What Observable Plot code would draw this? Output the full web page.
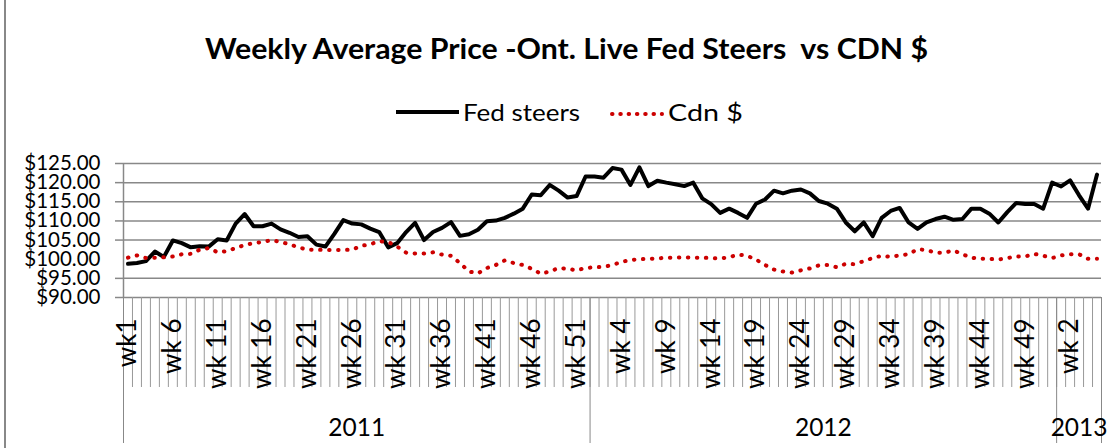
<!DOCTYPE html>
<html>
<head>
<meta charset="utf-8">
<script src="https://cdn.jsdelivr.net/npm/d3@7"></script>
<script src="https://cdn.jsdelivr.net/npm/@observablehq/plot@0.6"></script>
<style>
html,body{margin:0;padding:0;background:#fff;}
#wrap{position:relative;width:1115px;height:448px;overflow:hidden;font-family:Lato,sans-serif;}
#wrap svg{position:absolute;left:0;top:0;}
</style>
</head>
<body>
<div id="wrap"></div>
<script>
// ---- data ----
const years = ["2011", "2012", "2013"];
const weeksPerYear = [52, 52, 5];

const fedSteers = [
  98.8, 99.0, 99.5, 102.0, 100.6, 104.9, 104.2, 103.1, 103.4, 103.3,
  105.2, 104.9, 109.3, 111.8, 108.6, 108.6, 109.3, 107.8, 106.9, 105.8,
  106.0, 103.8, 103.3, 106.6, 110.2, 109.3, 109.1, 108.0, 107.1, 103.1,
  104.2, 107.1, 109.5, 105.0, 107.1, 108.2, 109.7, 106.1, 106.5, 107.7,
  109.9, 110.1, 110.8, 111.9, 113.2, 116.9, 116.7, 119.4, 117.9, 116.1,
  116.5, 121.6,
  121.6, 121.3, 123.8, 123.4, 119.4, 124.0, 119.1, 120.5, 120.0, 119.6,
  119.1, 120.0, 115.9, 114.4, 112.1, 113.2, 112.1, 110.8, 114.5, 115.6,
  117.9, 117.2, 117.9, 118.2, 117.2, 115.2, 114.5, 113.2, 109.6, 107.3,
  109.6, 106.0, 110.8, 112.6, 113.4, 109.6, 107.9, 109.6, 110.5, 111.1,
  110.3, 110.5, 113.2, 113.2, 111.9, 109.6, 112.3, 114.7, 114.4, 114.4,
  113.2, 120.0,
  119.0, 120.6, 116.7, 113.2, 122.1
];

const cdnDollar = [
  100.4, 101.0, 100.3, 100.4, 100.5, 100.7, 101.3, 101.4, 102.5, 102.9,
  101.8, 102.1, 102.9, 103.7, 104.2, 104.5, 105.0, 104.5, 103.9, 103.1,
  102.5, 102.5, 102.4, 102.4, 102.4, 102.5, 103.5, 103.9, 104.7, 104.5,
  103.3, 101.7, 101.5, 101.5, 101.8, 101.2, 100.9, 99.0, 96.8, 96.3,
  97.7, 98.5, 99.7, 99.0, 98.5, 97.5, 96.2, 96.8, 97.7, 97.5,
  97.1, 97.7,
  97.9, 98.0, 98.5, 99.3, 99.8, 100.0, 100.1, 100.2, 100.4, 100.4,
  100.5, 100.4, 100.4, 100.3, 100.2, 100.5, 101.2, 100.9, 99.9, 98.5,
  97.3, 96.8, 96.5, 97.1, 97.6, 98.4, 98.5, 97.9, 98.8, 98.7,
  99.5, 100.3, 100.9, 100.6, 101.0, 101.3, 102.6, 102.4, 101.7, 101.7,
  102.3, 101.3, 100.4, 100.1, 100.1, 99.9, 100.3, 100.7, 100.7, 101.4,
  100.9, 100.3,
  101.0, 101.3, 101.3, 100.1, 100.1
];

const weekTickLabels = [
  "wk1", "wk 6", "wk 11", "wk 16", "wk 21", "wk 26", "wk 31", "wk 36", "wk 41", "wk 46", "wk 51",
  "wk 4", "wk 9", "wk 14", "wk 19", "wk 24", "wk 29", "wk 34", "wk 39", "wk 44", "wk 49",
  "wk 2"
];
const weekLabelStep = 5;

const yTicks = [90, 95, 100, 105, 110, 115, 120, 125];
const yGridTicks = [95, 105, 110, 115, 120, 125];

const titleText = "Weekly Average Price -Ont. Live Fed Steers  vs CDN $";
const seriesNames = ["Fed steers", "Cdn $"];

// ---- derived ----
const n = fedSteers.length;
const boundaries = d3.range(n + 1);
const yearStarts = [0, ...d3.cumsum(weeksPerYear)];
const yearCenters = years.map((y, i) => (yearStarts[i] + yearStarts[i + 1]) / 2);
const labelPos = weekTickLabels.map((l, i) => i * weekLabelStep + 0.5);

const grey = "#888";

const chart = Plot.plot({
  width: 1115,
  height: 448,
  marginTop: 163,
  marginBottom: 151,
  marginLeft: 123,
  marginRight: 14,
  style: {fontFamily: "Lato, sans-serif", color: "black", background: "white", overflow: "visible"},
  x: {domain: [0, n], axis: null},
  y: {domain: [90, 125], axis: null},
  marks: [
    Plot.gridY(yGridTicks, {stroke: grey, strokeOpacity: 1, strokeWidth: 1.5}),
    Plot.ruleY([90], {stroke: grey, strokeWidth: 1.5}),
    Plot.ruleX([0], {stroke: grey, strokeWidth: 1.5}),
    Plot.axisY(yGridTicks.concat([90]), {tickSize: 8, fill: "none", stroke: grey, strokeWidth: 1.5}),
    Plot.axisY(yTicks, {tickSize: 0, tickPadding: 23, tickFormat: d => "$" + d.toFixed(2), fontSize: 20.5, fill: "black"}),
    Plot.axisX(boundaries, {tickSize: 90, fill: "none", stroke: "#999", strokeWidth: 1}),
    Plot.axisX(yearStarts, {tickSize: 146, fill: "none", stroke: grey, strokeWidth: 1}),
    Plot.axisX(labelPos, {tickSize: 0, tickPadding: 21, tickRotate: -90,
      tickFormat: d => weekTickLabels[Math.round((d - 0.5) / weekLabelStep)], fontSize: 26, fill: "black"}),
    Plot.axisX(yearCenters, {tickSize: 0, tickPadding: 121,
      tickFormat: d => years[yearCenters.indexOf(d)], fontSize: 24.5, fill: "black"}),
    Plot.lineY(fedSteers, {x: (d, i) => i + 0.5, y: d => d, stroke: "black", strokeWidth: 4, strokeLinejoin: "round"}),
    Plot.lineY(cdnDollar, {x: (d, i) => i + 0.5, y: d => d, stroke: "#cc0000", strokeWidth: 4,
      strokeDasharray: "0.5 8.5", strokeLinecap: "round"})
  ]
});

const wrap = document.getElementById("wrap");
wrap.appendChild(chart);

// title, legend and chart border overlay
const ov = d3.select(wrap).append("svg")
  .attr("width", 1115).attr("height", 448)
  .style("pointer-events", "none")
  .attr("font-family", "Lato, sans-serif");

ov.append("line").attr("x1", 5).attr("x2", 5).attr("y1", 0).attr("y2", 448)
  .attr("stroke", grey).attr("stroke-width", 2);

ov.append("text").attr("x", 205).attr("y", 59)
  .attr("font-size", 28).attr("font-weight", 700)
  .attr("textLength", 723).attr("lengthAdjust", "spacingAndGlyphs")
  .style("white-space", "pre")
  .text(titleText);

ov.append("line").attr("x1", 396).attr("x2", 459).attr("y1", 112).attr("y2", 112)
  .attr("stroke", "black").attr("stroke-width", 4);
ov.append("text").attr("x", 463).attr("y", 121).attr("font-size", 24)
  .attr("textLength", 117).attr("lengthAdjust", "spacingAndGlyphs").text(seriesNames[0]);

ov.append("line").attr("x1", 612).attr("x2", 662).attr("y1", 114).attr("y2", 114)
  .attr("stroke", "#cc0000").attr("stroke-width", 4)
  .attr("stroke-dasharray", "0.5 7.8").attr("stroke-linecap", "round");
ov.append("text").attr("x", 668).attr("y", 121).attr("font-size", 24)
  .attr("textLength", 75).attr("lengthAdjust", "spacingAndGlyphs").text(seriesNames[1]);
</script>
</body>
</html>
